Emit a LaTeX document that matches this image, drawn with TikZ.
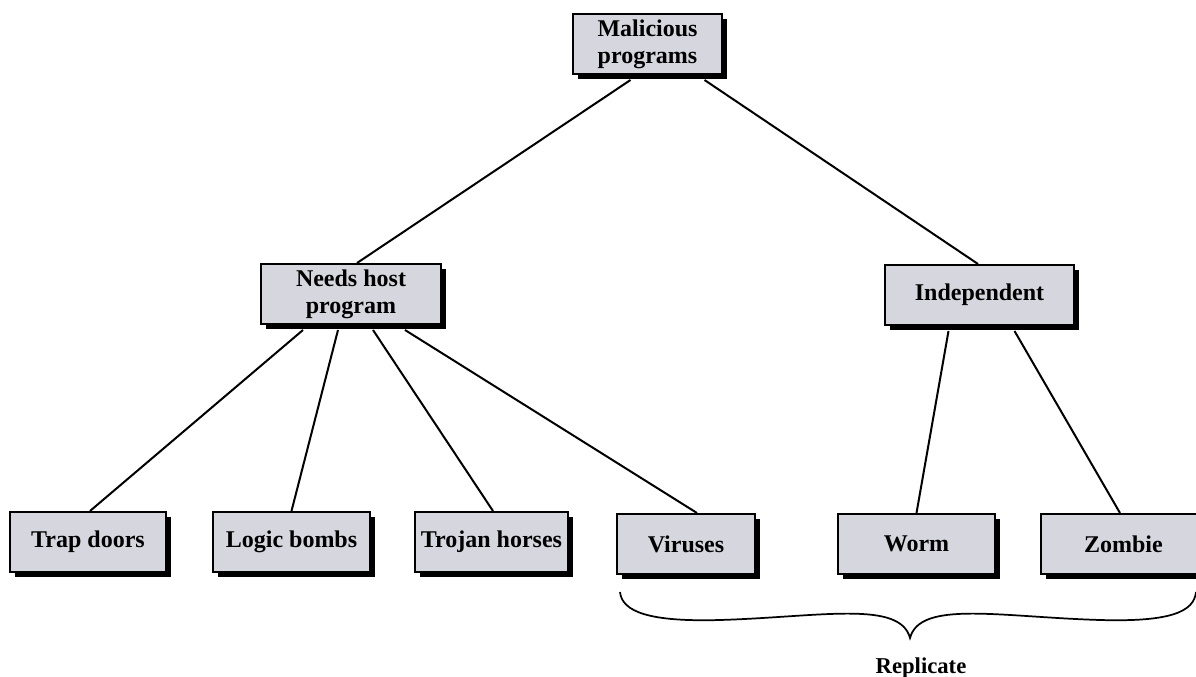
\documentclass[tikz,border=0pt]{standalone}
\usepackage{fontspec}
\setmainfont{Liberation Serif}
\usetikzlibrary{shadows,calc}
\definecolor{boxfill}{RGB}{214,214,222}
\tikzset{
  box/.style={draw=black, line width=1.5pt, fill=boxfill, rectangle,
    minimum height=45pt, align=center, inner sep=2pt,
    font=\fontsize{18}{20}\selectfont\bfseries,
    drop shadow={shadow xshift=3.8pt, shadow yshift=-3.8pt, fill=black, opacity=1}},
  link/.style={line width=1.5pt, draw=black},
  brace/.style={line width=1.3pt, draw=black}
}
\begin{document}
\begin{tikzpicture}[x=0.75pt,y=-0.75pt]
\useasboundingbox (0,0) rectangle (1196,677);
\node[box, minimum width=112pt] (mal) at (647.5,44) {Malicious\\programs};
\node[box, minimum width=135pt] (host) at (351,294) {Needs host\\program};
\node[box, minimum width=142pt] (indep) at (979.5,295) {Independent};
\node[box, minimum width=117pt] (trap) at (88,542) {Trap doors};
\node[box, minimum width=118pt] (logic) at (291.5,542) {Logic bombs};
\node[box, minimum width=115pt] (trojan) at (491.5,542) {Trojan horses};
\node[box, minimum width=104pt] (virus) at (686,544) {Viruses};
\node[box, minimum width=118pt] (worm) at (916.5,544) {Worm};
\node[box, minimum width=130pt] (zombie) at (1128,544) {\hspace*{-7pt}Zombie};
\draw[link] ($(mal.south)+(-17,5)$) -- ($(host.north)+(6,0)$);
\draw[link] ($(mal.south)+(57,5)$) -- ($(indep.north)+(-1.5,0)$);
\draw[link] ($(host.south)+(-48,5)$) -- ($(trap.north)+(2,0)$);
\draw[link] ($(host.south)+(-13,5)$) -- ($(logic.north)+(0,0)$);
\draw[link] ($(host.south)+(22,5)$) -- ($(trojan.north)+(1.5,0)$);
\draw[link] ($(host.south)+(54,5)$) -- ($(virus.north)+(11,0)$);
\draw[link] ($(indep.south)+(-31,5)$) -- ($(worm.north)+(0,0)$);
\draw[link] ($(indep.south)+(35,5)$) -- ($(zombie.north)+(-8,0)$);
\coordinate (bl) at (620,592);
\coordinate (tip) at (910,638);
\coordinate (br) at (1196,592);
\draw[brace] (bl) .. controls (622,612) and (650,622) .. (720,620)
  .. controls (820,617) and (900,600) .. (tip)
  .. controls (920,600) and (1000,617) .. (1100,620)
  .. controls (1170,622) and (1194,612) .. (br);
\node[font=\fontsize{17}{19}\selectfont\bfseries] (rep) at (921,668) {Replicate};
\end{tikzpicture}
\end{document}
